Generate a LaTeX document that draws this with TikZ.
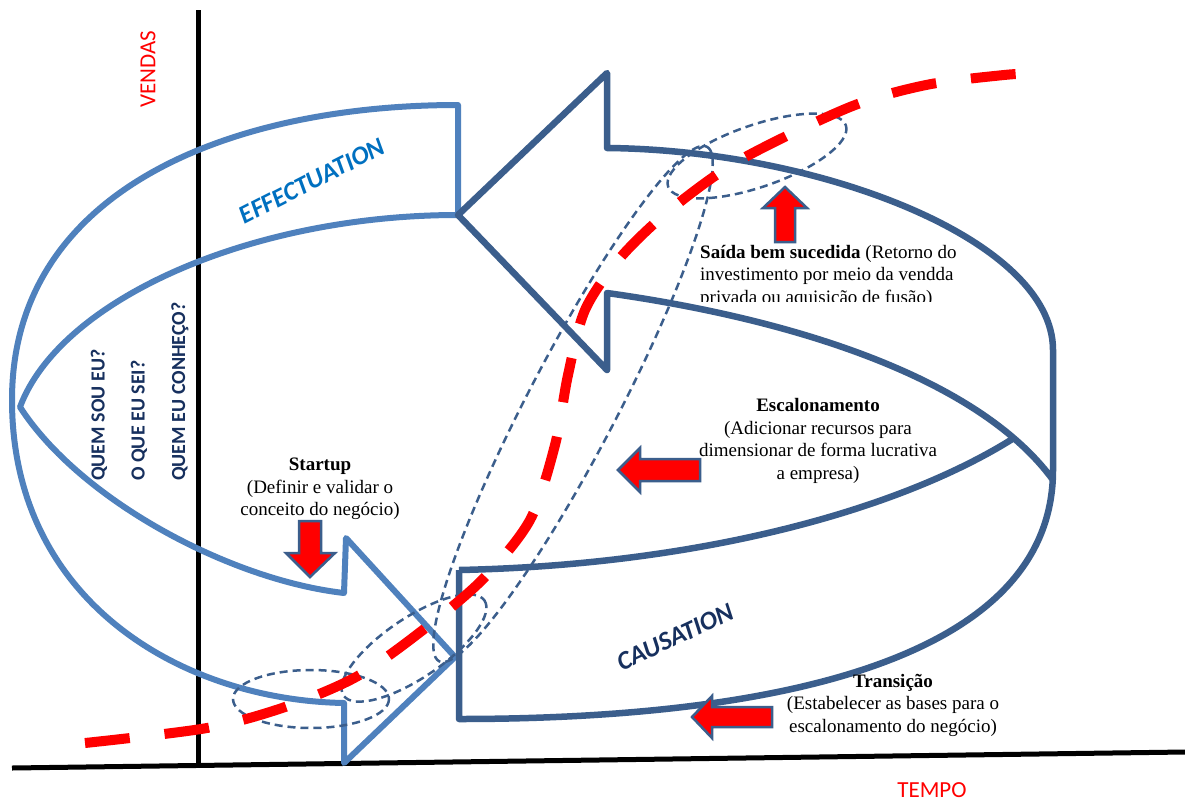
\documentclass[tikz,border=0pt]{standalone}
\usepackage{fontspec}
\setmainfont{Liberation Serif}
\newfontfamily\calfont{Carlito}
\definecolor{effblue}{HTML}{4F81BD}
\definecolor{caublue}{HTML}{3B5E8C}
\definecolor{efftext}{HTML}{0070C0}
\definecolor{navytext}{HTML}{17305E}
\tikzset{
  axisline/.style={line width=5pt, black},
  effshape/.style={line width=6pt, effblue, line join=round},
  caushape/.style={line width=6.5pt, caublue, line join=round},
  dashell/.style={line width=2.5pt, caublue, dash pattern=on 8pt off 5pt},
  salescurve/.style={line width=10pt, red, dash pattern=on 45pt off 35pt},
  redarrow/.style={fill=red, draw=caublue, line width=2.5pt, line join=miter},
  lbl/.style={align=center, inner sep=0pt, font=\fontsize{19}{22.5}\selectfont},
  sansred/.style={inner sep=0pt, text=red, font=\calfont\fontsize{23}{23}\selectfont},
  question/.style={rotate=90, anchor=west, inner sep=0pt, text=navytext, font=\calfont\bfseries\fontsize{20}{20}\selectfont},
  bigtitle/.style={inner sep=0pt, font=\calfont\bfseries\itshape\fontsize{26}{26}\selectfont}
}
\begin{document}
\begin{tikzpicture}[x=1pt,y=-1pt]
\useasboundingbox (0,0) rectangle (1185,803);
\fill[white] (0,0) rectangle (1185,803);

% axes
\coordinate (vtop) at (198,10);
\coordinate (vbot) at (198,767);
\coordinate (hleft) at (12,768);
\coordinate (hright) at (1185,752);
\draw[axisline] (vtop) -- (vbot);
\draw[axisline] (hleft) -- (hright);

% effectuation ribbon arrow
\draw[effshape] (458,215) -- (458,105)
  .. controls (230,105) and (12,190) .. (12,400)
  .. controls (12,600) and (180,700) .. (344,703)
  -- (344,763) -- (455,657) -- (346,538) -- (344,593)
  .. controls (230,580) and (80,500) .. (20,407)
  .. controls (60,300) and (250,215) .. (458,215);

% causation ribbon arrow
\draw[caushape] (459,570) -- (459,719)
  .. controls (760,719) and (1053,665) .. (1053,470)
  -- (1053,350)
  .. controls (1053,240) and (820,150) .. (607,148)
  -- (607,73) -- (458,215) -- (607,370) -- (607,293)
  .. controls (800,320) and (980,380) .. (1053,480);
\draw[caushape] (459,570) .. controls (700,565) and (900,510) .. (1014,438);

% dashed ellipses
\draw[dashell] (311,699) ellipse [x radius=78, y radius=29];
\draw[dashell, rotate around={34:(414,648)}] (414,648) ellipse [x radius=85, y radius=30];
\draw[dashell, rotate around={62.5:(573,404)}] (573,404) ellipse [x radius=290, y radius=45];
\draw[dashell, rotate around={19:(757,156)}] (757,156) ellipse [x radius=94, y radius=31];

% sales curve
\draw[salescurve] plot[smooth, tension=0.5] coordinates {(85,743) (207,728) (285,707) (356,677) (419,633) (482,580) (530,520) (555,445) (568,375) (585,310) (620,258) (670,210) (740,160) (850,107) (926,85) (1004,75) (1040,73)};

% red block arrows
\draw[redarrow] (299,521) -- (321,521) -- (321,553) -- (335,553) -- (310,577) -- (286,553) -- (299,553) -- cycle;
\draw[redarrow] (785,187) -- (807,208) -- (795,208) -- (795,242) -- (775,242) -- (775,208) -- (763,208) -- cycle;
\draw[redarrow] (618,470) -- (640,448) -- (640,459) -- (700,459) -- (700,481) -- (640,481) -- (640,492) -- cycle;
\draw[redarrow] (692,717) -- (712,696) -- (712,707) -- (772,707) -- (772,727) -- (712,727) -- (712,738) -- cycle;

% labels
\node[sansred, rotate=90] (vendas) at (148,69) {VENDAS};
\node[sansred] (tempo) at (932,790) {TEMPO};
\node[question] (q1) at (99,481) {QUEM SOU EU?};
\node[question] (q2) at (139,481) {O QUE EU SEI?};
\node[question] (q3) at (180,481) {QUEM EU CONHEÇO?};
\node[bigtitle, text=efftext, rotate=27] (efft) at (312,181) {EFFECTUATION};
\node[bigtitle, text=navytext, rotate=25] (caut) at (675,637) {CAUSATION};

\node[lbl] (startup) at (320,489) {\textbf{Startup}\\(Definir e validar o\\conceito do negócio)};
\node[lbl] (escal) at (818,441) {\textbf{Escalonamento}\\(Adicionar recursos para\\dimensionar de forma lucrativa\\a empresa)};
\node[lbl] (trans) at (893,705) {\textbf{Transição}\\(Estabelecer as bases para o\\escalonamento do negócio)};
\begin{scope}
\clip (690,238) rectangle (1000,301);
\node[lbl, align=left, anchor=west] (saida) at (700,276) {\textbf{Saída bem sucedida} (Retorno do\\investimento por meio da vendda\\privada ou aquisição de fusão)};
\end{scope}
\end{tikzpicture}
\end{document}
